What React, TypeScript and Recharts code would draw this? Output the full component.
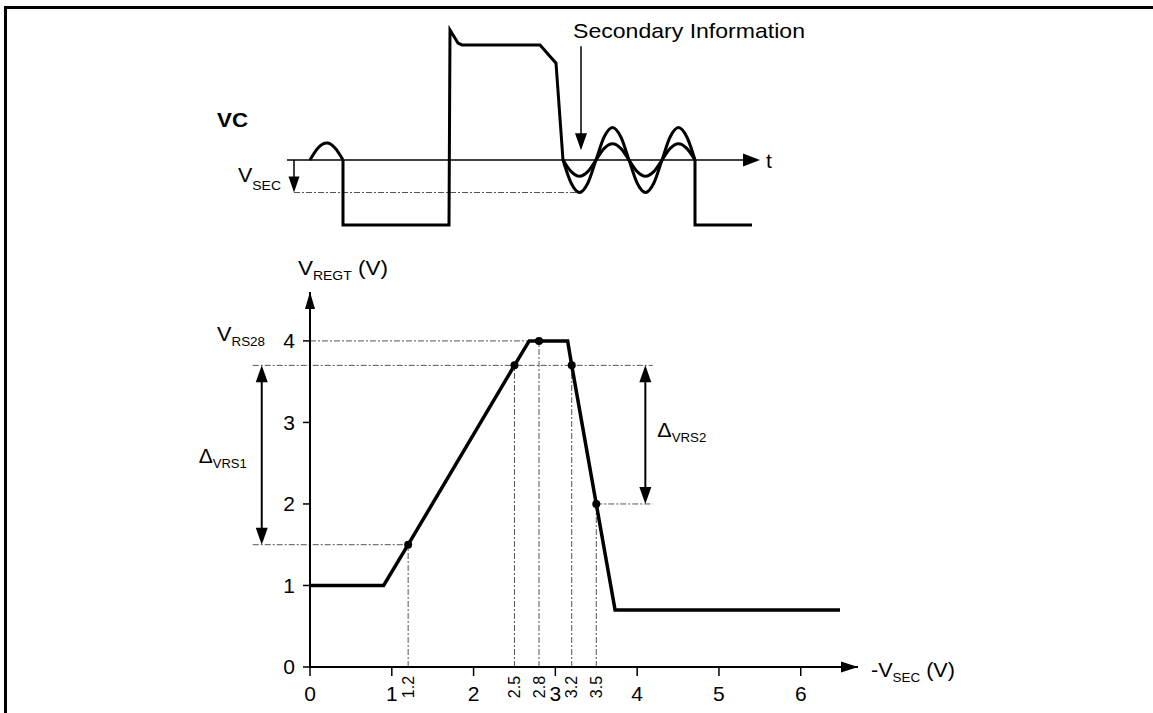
import React from 'react';
import {
  ComposedChart,
  Line,
  XAxis,
  YAxis,
  ReferenceLine,
  ReferenceDot,
} from 'recharts';

const FONT = '"Liberation Sans", Arial, Helvetica, sans-serif';
const W = 1153;
const H = 713;

// ---- lower plot: V_REGT (V) against -V_SEC (V) ----
const curveX = [0, 0.9, 1.2, 2.5, 2.68, 2.8, 3.15, 3.2, 3.5, 3.73, 6.48];
const curveY = [1, 1, 1.5, 3.7, 4, 4, 4, 3.7, 2, 0.7, 0.7];
const markX = [1.2, 2.5, 2.8, 3.2, 3.5];
const markY = [1.5, 3.7, 4, 3.7, 2];
const xTicks = [0, 1, 2, 3, 4, 5, 6];
const yTicks = [0, 1, 2, 3, 4];
const vRs28 = 4;
const deltaVrs1 = [1.5, 3.7];
const deltaVrs2 = [2, 3.7];

// ---- upper plot: VC waveform (arbitrary time units) ----
const bumpT = [2.3, 3.1, 4.0, 4.8, 5.6];
const bumpV = [0, 0.37, 0.52, 0.37, 0];
const pulseT = [5.6, 5.6, 16.2, 16.3, 16.7, 17.1, 17.5, 25.3, 26.9, 27.6];
const pulseV = [0, -2, -2, 4.0, 3.8, 3.6, 3.54, 3.54, 2.98, 0];
const waveT = [27.6, 28.4, 29.25, 30.1, 30.9, 31.7, 32.55, 33.4, 34.2, 35.0, 35.85, 36.7, 37.5, 38.3, 39.15, 40.0, 40.8];
const waveBig = [0, -0.7, -1, -0.7, 0, 0.7, 1, 0.7, 0, -0.7, -1, -0.7, 0, 0.7, 1, 0.7, 0];
const waveSmall = [0, -0.35, -0.5, -0.35, 0, 0.35, 0.5, 0.35, 0, -0.35, -0.5, -0.35, 0, 0.35, 0.5, 0.35, 0];
const tailT = [40.8, 40.8, 46.5];
const tailV = [0, -2, -2];
const vSec = -1;

const zip = (xs: number[], ys: number[]) => xs.map((x, i) => ({ x, y: ys[i] }));

const GUIDE = { stroke: '#555', strokeWidth: 1, strokeDasharray: '6 2 2 2' };

// line with filled triangle heads, used as a ReferenceLine shape
const arrow =
  ({ start = false, end = true, width = 2, len = 17, half = 6 }: { start?: boolean; end?: boolean; width?: number; len?: number; half?: number }) =>
  (p: any) => {
    const { x1, y1, x2, y2 } = p;
    const d = Math.hypot(x2 - x1, y2 - y1) || 1;
    const ux = (x2 - x1) / d;
    const uy = (y2 - y1) / d;
    const head = (tx: number, ty: number, s: number) => {
      const bx = tx - s * ux * len;
      const by = ty - s * uy * len;
      return `${tx},${ty} ${bx - uy * half},${by + ux * half} ${bx + uy * half},${by - ux * half}`;
    };
    return (
      <g>
        <line
          x1={start ? x1 + ux * (len - 2) : x1}
          y1={start ? y1 + uy * (len - 2) : y1}
          x2={end ? x2 - ux * (len - 2) : x2}
          y2={end ? y2 - uy * (len - 2) : y2}
          stroke="#000"
          strokeWidth={width}
        />
        {start && <polygon points={head(x1, y1, -1)} fill="#000" />}
        {end && <polygon points={head(x2, y2, 1)} fill="#000" />}
      </g>
    );
  };

type Run = [string, boolean?];

// text with subscripts, used as a ReferenceDot shape
const textAt =
  (runs: Run[], dx: number, dy: number, o: { size?: number; sub?: number; shift?: number; bold?: boolean; len?: number } = {}) =>
  (p: any) => {
    const { size = 20, sub = 13, shift = 5, bold = false, len } = o;
    let down = false;
    return (
      <text
        x={p.cx + dx}
        y={p.cy + dy}
        fontFamily={FONT}
        fontSize={size}
        fontWeight={bold ? 700 : 400}
        fill="#000"
        textLength={len}
        lengthAdjust={len ? 'spacingAndGlyphs' : undefined}
        style={{ whiteSpace: 'pre' }}
      >
        {runs.map(([s, isSub], i) => {
          const shiftNow = isSub && !down ? shift : !isSub && down ? -shift : 0;
          down = !!isSub;
          return (
            <tspan key={i} fontSize={isSub ? sub : size} dy={shiftNow || undefined}>
              {s}
            </tspan>
          );
        })}
      </text>
    );
  };

// small rotated value under the x axis, drawn at (value, 0)
const minorLabel = (value: number) => (p: any) => {
  const cx = p.cx + 5.5;
  const cy = p.cy + 20;
  return (
    <text x={cx} y={cy} transform={`rotate(-90 ${cx} ${cy})`} textAnchor="middle" fontSize={16} fontFamily={FONT} fill="#000">
      {value}
    </text>
  );
};

const axisStyle = { stroke: '#000', strokeWidth: 2 };
const tickStyle = { fill: '#000', fontSize: 21, fontFamily: FONT };

const App = () => {
  const marks = zip(markX, markY);
  return (
    <div style={{ position: 'absolute', left: 0, top: 0, width: W, height: H, background: '#fff', fontFamily: FONT }}>
      <div
        style={{
          position: 'absolute',
          left: 4,
          top: 6,
          width: W - 4,
          height: H - 6,
          borderTop: '3px solid #000',
          borderLeft: '3px solid #000',
          boxSizing: 'border-box',
        }}
      />

      {/* upper waveform */}
      <div style={{ position: 'absolute', left: 0, top: 0 }}>
        <ComposedChart width={W} height={H} margin={{ top: 13.75, right: 393, bottom: 471.75, left: 287 }}>
          <XAxis dataKey="x" type="number" domain={[0, 47.3]} hide />
          <YAxis type="number" domain={[-2.5, 4.5]} hide />
          <ReferenceLine segment={[{ x: 0, y: 0 }, { x: 47.3, y: 0 }]} ifOverflow="visible" shape={arrow({ width: 1.6, half: 6.5 })} />
          <ReferenceLine segment={[{ x: 0.7, y: vSec }, { x: 29.3, y: vSec }]} ifOverflow="visible" {...GUIDE} />
          <ReferenceLine segment={[{ x: 0.7, y: 0 }, { x: 0.7, y: vSec }]} ifOverflow="visible" shape={arrow({ width: 1.5, len: 16, half: 5.5 })} />
          <ReferenceLine segment={[{ x: 29.4, y: 3.5 }, { x: 29.4, y: 0.3 }]} ifOverflow="visible" shape={arrow({ width: 1.5, half: 6 })} />
          <Line data={zip(bumpT, bumpV)} dataKey="y" type="monotone" stroke="#000" strokeWidth={3} dot={false} isAnimationActive={false} />
          <Line data={zip(pulseT, pulseV)} dataKey="y" type="linear" stroke="#000" strokeWidth={3} dot={false} isAnimationActive={false} />
          <Line data={zip(waveT, waveBig)} dataKey="y" type="monotone" stroke="#000" strokeWidth={3} dot={false} isAnimationActive={false} />
          <Line data={zip(waveT, waveSmall)} dataKey="y" type="monotone" stroke="#000" strokeWidth={3} dot={false} isAnimationActive={false} />
          <Line data={zip(tailT, tailV)} dataKey="y" type="linear" stroke="#000" strokeWidth={3} dot={false} isAnimationActive={false} />
          <ReferenceDot x={0} y={0} r={0} ifOverflow="visible" shape={textAt([['VC']], -70, -33, { bold: true, len: 31 })} />
          <ReferenceDot x={0} y={0} r={1} ifOverflow="visible" shape={textAt([['V'], ['SEC', true]], -49, 22, { shift: 8, len: 43 })} />
          <ReferenceDot x={47.3} y={0} r={2} ifOverflow="visible" shape={textAt([['t']], 6, 8, { size: 21 })} />
          <ReferenceDot x={29.4} y={3.5} r={0} ifOverflow="visible" shape={textAt([['Secondary Information']], -8, -8, { size: 21, len: 232 })} />
        </ComposedChart>
      </div>

      {/* lower transfer curve */}
      <div style={{ position: 'absolute', left: 0, top: 0 }}>
        <ComposedChart width={W} height={H} margin={{ top: 292, right: 295, bottom: 45, left: 309 }}>
          <XAxis
            dataKey="x"
            type="number"
            domain={[0, 6.7]}
            ticks={xTicks}
            interval={0}
            height={1}
            axisLine={axisStyle}
            tickLine={{ stroke: '#000', strokeWidth: 1.5 }}
            tickSize={9}
            tickMargin={10}
            tick={tickStyle}
          />
          <YAxis
            type="number"
            domain={[0, 4.6]}
            ticks={yTicks}
            interval={0}
            width={1}
            axisLine={axisStyle}
            tickLine={{ stroke: '#000', strokeWidth: 1.5 }}
            tickSize={7}
            tickMargin={8}
            tick={tickStyle}
          />

          <ReferenceLine segment={[{ x: 0, y: vRs28 }, { x: 2.8, y: vRs28 }]} ifOverflow="visible" {...GUIDE} />
          <ReferenceLine segment={[{ x: -0.7, y: deltaVrs1[1] }, { x: 4.19, y: deltaVrs1[1] }]} ifOverflow="visible" {...GUIDE} />
          <ReferenceLine segment={[{ x: -0.7, y: deltaVrs1[0] }, { x: 1.2, y: deltaVrs1[0] }]} ifOverflow="visible" {...GUIDE} />
          <ReferenceLine segment={[{ x: 3.5, y: deltaVrs2[0] }, { x: 4.19, y: deltaVrs2[0] }]} ifOverflow="visible" {...GUIDE} />
          {marks.map((m) => (
            <ReferenceLine key={m.x} segment={[{ x: m.x, y: 0 }, { x: m.x, y: m.y }]} ifOverflow="visible" {...GUIDE} />
          ))}
          {markX.map((v) => (
            <ReferenceDot key={`l${v}`} x={v} y={0} r={0} ifOverflow="visible" shape={minorLabel(v)} />
          ))}

          <ReferenceLine
            segment={[{ x: -0.59, y: deltaVrs1[0] }, { x: -0.59, y: deltaVrs1[1] }]}
            ifOverflow="visible"
            shape={arrow({ start: true, end: true, width: 2, half: 6 })}
          />
          <ReferenceLine
            segment={[{ x: 4.1, y: deltaVrs2[0] }, { x: 4.1, y: deltaVrs2[1] }]}
            ifOverflow="visible"
            shape={arrow({ start: true, end: true, width: 2, half: 6 })}
          />
          <ReferenceLine segment={[{ x: 6.2, y: 0 }, { x: 6.7, y: 0 }]} ifOverflow="visible" shape={arrow({ width: 2, half: 5.5 })} />
          <ReferenceLine segment={[{ x: 0, y: 4.0 }, { x: 0, y: 4.6 }]} ifOverflow="visible" shape={arrow({ width: 2, half: 5 })} />

          <Line data={zip(curveX, curveY)} dataKey="y" type="linear" stroke="#000" strokeWidth={3.5} dot={false} isAnimationActive={false} />
          <Line data={marks} dataKey="y" type="linear" stroke="none" dot={{ r: 4, fill: '#000', stroke: 'none' }} isAnimationActive={false} />

          <ReferenceDot x={0} y={4.6} r={0} ifOverflow="visible" shape={textAt([['V'], ['REGT', true], [' (V)']], -12, -17, { size: 21, len: 90 })} />
          <ReferenceDot x={0} y={vRs28} r={1} ifOverflow="visible" shape={textAt([['V'], ['RS28', true]], -93, 0, { size: 21, len: 48 })} />
          <ReferenceDot x={-0.59} y={2.5} r={0} ifOverflow="visible" shape={textAt([['\u0394'], ['VRS1', true]], -63, 0, { size: 21, len: 48 })} />
          <ReferenceDot x={4.1} y={2.8} r={0} ifOverflow="visible" shape={textAt([['\u0394'], ['VRS2', true]], 12, -2, { size: 21, len: 49 })} />
          <ReferenceDot x={6.7} y={0} r={2} ifOverflow="visible" shape={textAt([['-V'], ['SEC', true], [' (V)']], 13, 10, { size: 21, len: 84 })} />
        </ComposedChart>
      </div>
    </div>
  );
};

export default App;
